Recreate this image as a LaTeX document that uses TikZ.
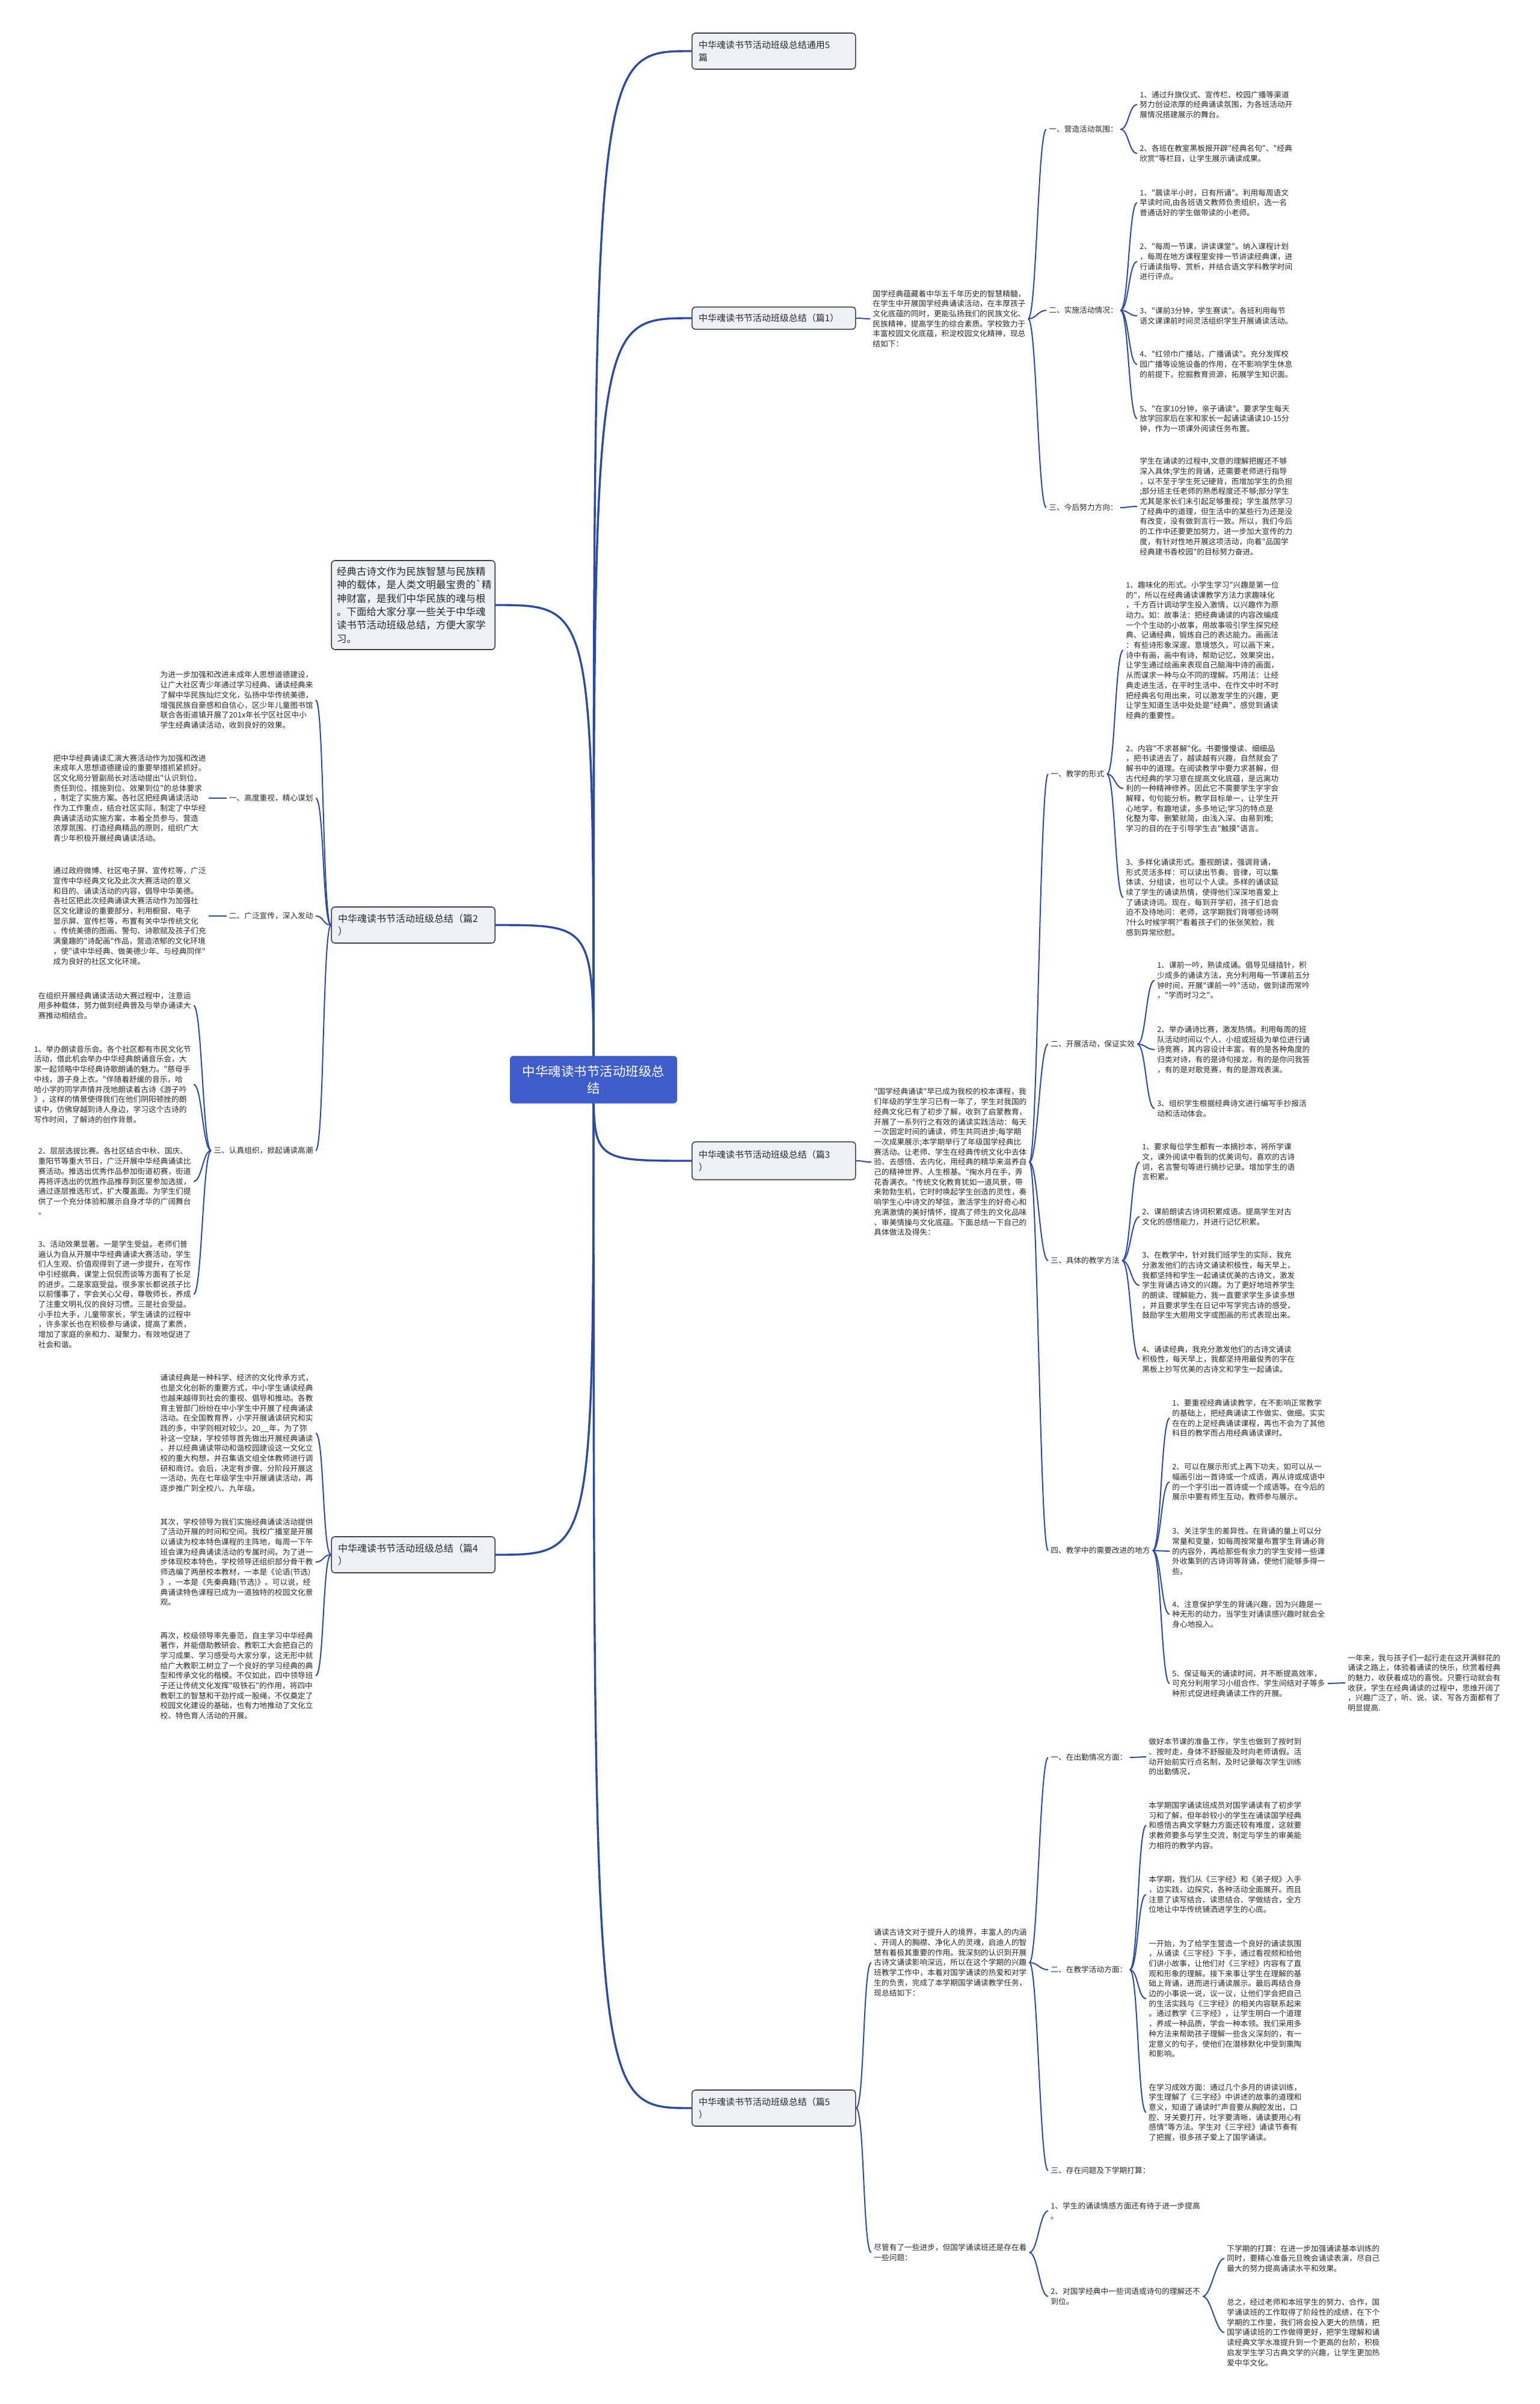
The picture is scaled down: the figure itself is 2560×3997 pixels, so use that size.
\documentclass[tikz,border=0pt]{standalone}
\usepackage{fontspec}
\setmainfont{Noto Sans CJK SC}[Ligatures=TeXOff]
\pgfdeclarelayer{bg}
\pgfsetlayers{bg,main}
\definecolor{lnc}{RGB}{42,74,168}
\definecolor{rootc}{RGB}{62,92,202}
\definecolor{boxc}{RGB}{237,240,245}
\definecolor{txc}{RGB}{40,40,40}
\newcommand\rconn[2]{\draw[subl] (#1.east) .. controls +(14,0) and +(-14,0) .. (#2.west);}
\newcommand\lconn[2]{\draw[subl] (#1.west) .. controls +(-14,0) and +(14,0) .. (#2.east);}
\begin{document}
\begin{tikzpicture}[x=0.5pt,y=-0.5pt,
 txt/.style={font=\fontsize{6.35pt}{8.35pt}\selectfont, align=left, inner xsep=2pt, inner ysep=1pt, text=txc},
 rtxt/.style={txt, anchor=west},
 ltxt/.style={txt, anchor=east},
 ttl/.style={draw=black!75, line width=0.8pt, fill=boxc, rounded corners=3pt, font=\fontsize{7.5pt}{10.5pt}\selectfont, align=left, text width=125pt, inner xsep=5.5pt, inner ysep=2pt, text=txc},
 lttl/.style={ttl, anchor=east, font=\fontsize{8pt}{10.5pt}\selectfont},
 mainl/.style={draw=lnc, line width=1.7pt},
 subl/.style={draw=lnc, line width=1pt}]
\useasboundingbox (0,0) rectangle (2560,3997);

% ---------- root and titles ----------
\node[fill=rootc, text=white, rounded corners=3pt, font=\fontsize{10.75pt}{14pt}\selectfont, align=center, text width=129pt, inner xsep=5pt, minimum height=39.5pt] (root) at (987,1795) {中华魂读书节活动班级总\\结};

\node[ttl, anchor=west, minimum height=30pt] (t0) at (1150,85) {中华魂读书节活动班级总结通用5\\篇};
\node[ttl, anchor=west, minimum height=18.5pt] (t1) at (1150,529) {中华魂读书节活动班级总结（篇1）};
\node[ttl, anchor=west, minimum height=31.5pt] (t3) at (1150,1930) {中华魂读书节活动班级总结（篇3\\）};
\node[ttl, anchor=west, minimum height=30pt] (t5) at (1150,3505) {中华魂读书节活动班级总结（篇5\\）};

\node[ttl, anchor=east, minimum height=74pt, font=\fontsize{8.25pt}{11.15pt}\selectfont, text width=127pt, inner xsep=4.5pt] (intro) at (824,1006) {经典古诗文作为民族智慧与民族精\\神的载体，是人类文明最宝贵的`精\\神财富，是我们中华民族的魂与根\\。下面给大家分享一些关于中华魂\\读书节活动班级总结，方便大家学\\习。};
\node[lttl, minimum height=30pt] (t2) at (824,1538) {中华魂读书节活动班级总结（篇2\\）};
\node[lttl, minimum height=30pt] (t4) at (824,2585) {中华魂读书节活动班级总结（篇4\\）};

\begin{pgfonlayer}{bg}
\fill[white] (0,0) rectangle (2560,3997);
\foreach \t in {t0,t1,t3,t5} \draw[mainl] (root.center) .. controls (root.center |- \t.west) .. (\t.west);
\foreach \t in {intro,t2,t4} \draw[mainl] (root.center) .. controls (root.center |- \t.east) .. (\t.east);
\end{pgfonlayer}

% ---------- 篇1 ----------
\node[rtxt] (p1i) at (1447,530) {国学经典蕴藏着中华五千年历史的智慧精髓，\\在学生中开展国学经典诵读活动，在丰厚孩子\\文化底蕴的同时，更能弘扬我们的民族文化、\\民族精神，提高学生的综合素质。学校致力于\\丰富校园文化底蕴，积淀校园文化精神，现总\\结如下：};
\node[rtxt] (p1a) at (1740,215) {一、营造活动氛围：};
\node[rtxt] (p1b) at (1740,516) {二、实施活动情况：};
\node[rtxt] (p1c) at (1740,844) {三、今后努力方向：};
\node[rtxt] (p1a1) at (1891,174) {1、通过升旗仪式、宣传栏、校园广播等渠道\\努力创设浓厚的经典诵读氛围，为各班活动开\\展情况搭建展示的舞台。};
\node[rtxt] (p1a2) at (1891,255) {2、各班在教室黑板报开辟"经典名句"、"经典\\欣赏"等栏目，让学生展示诵读成果。};
\node[rtxt] (p1b1) at (1891,337) {1、"晨读半小时，日有所诵"。利用每周语文\\早读时间,由各班语文教师负责组织，选一名\\普通话好的学生做带读的小老师。};
\node[rtxt] (p1b2) at (1891,435) {2、"每周一节课，讲读课堂"。纳入课程计划\\，每周在地方课程里安排一节讲读经典课，进\\行诵读指导、赏析，并结合语文学科教学时间\\进行评点。};
\node[rtxt] (p1b3) at (1891,525) {3、"课前3分钟，学生赛读"。各班利用每节\\语文课课前时间灵活组织学生开展诵读活动。};
\node[rtxt] (p1b4) at (1891,606) {4、"红领巾广播站，广播诵读"。充分发挥校\\园广播等设施设备的作用，在不影响学生休息\\的前提下，挖掘教育资源，拓展学生知识面。};
\node[rtxt] (p1b5) at (1891,696) {5、"在家10分钟，亲子诵读"。要求学生每天\\放学回家后在家和家长一起诵读诵读10-15分\\钟，作为一项课外阅读任务布置。};
\node[rtxt] (p1c1) at (1891,842) {学生在诵读的过程中,文意的理解把握还不够\\深入具体;学生的背诵，还需要老师进行指导\\，以不至于学生死记硬背，而增加学生的负担\\;部分班主任老师的熟悉程度还不够;部分学生\\尤其是家长们未引起足够重视；学生虽然学习\\了经典中的道理，但生活中的某些行为还是没\\有改变，没有做到言行一致。所以，我们今后\\的工作中还要更加努力，进一步加大宣传的力\\度，有针对性地开展这项活动，向着"品国学\\经典建书香校园"的目标努力奋进。};
\rconn{t1}{p1i}
\foreach \n in {p1a,p1b,p1c} {\rconn{p1i}{\n}}
\foreach \n in {p1a1,p1a2} {\rconn{p1a}{\n}}
\foreach \n in {p1b1,p1b2,p1b3,p1b4,p1b5} {\rconn{p1b}{\n}}
\rconn{p1c}{p1c1}

% ---------- 篇3 ----------
\node[rtxt] (p3i) at (1449,1932) {"国学经典诵读"早已成为我校的校本课程，我\\们年级的学生学习已有一年了，学生对我国的\\经典文化已有了初步了解，收到了启蒙教育，\\开展了一系列行之有效的诵读实践活动：每天\\一次固定时间的诵读，师生共同进步;每学期\\一次成果展示;本学期举行了年级国学经典比\\赛活动。让老师、学生在经典传统文化中去体\\验、去感悟、去内化，用经典的精华来滋养自\\己的精神世界、人生根基。"掬水月在手，弄\\花香满衣。"传统文化教育犹如一道风景，带\\来勃勃生机，它时时唤起学生创造的灵性，奏\\响学生心中诗文的琴弦，激活学生的好奇心和\\充满激情的美好情怀，提高了师生的文化品味\\、审美情操与文化底蕴。下面总结一下自己的\\具体做法及得失：};
\node[rtxt] (p3a) at (1743,1287) {一、教学的形式};
\node[rtxt] (p3b) at (1743,1736) {二、开展活动，保证实效};
\node[rtxt] (p3c) at (1743,2096) {三、具体的教学方法};
\node[rtxt] (p3d) at (1743,2578) {四、教学中的需要改进的地方};
\node[rtxt] (p3a1) at (1868,1081) {1、趣味化的形式。小学生学习"兴趣是第一位\\的"，所以在经典诵读课教学方法力求趣味化\\，千方百计调动学生投入激情，以兴趣作为原\\动力。如：故事法：把经典诵读的内容改编成\\一个个生动的小故事，用故事吸引学生探究经\\典、记诵经典，锻炼自己的表达能力。画画法\\：有些诗形象深邃、意境悠久，可以画下来，\\诗中有画，画中有诗，帮助记忆，效果突出，\\让学生通过绘画来表现自己脑海中诗的画面，\\从而谋求一种与众不同的理解。巧用法：让经\\典走进生活，在平时生活中、在作文中时不时\\把经典名句用出来，可以激发学生的兴趣，更\\让学生知道生活中处处是"经典"，感觉到诵读\\经典的重要性。};
\node[rtxt] (p3a2) at (1868,1311) {2、内容"不求甚解"化。书要慢慢读、细细品\\，把书读进去了，越读越有兴趣，自然就会了\\解书中的道理。在阅读教学中要力求甚解，但\\古代经典的学习意在提高文化底蕴，是远离功\\利的一种精神修养。因此它不需要学生字字会\\解释，句句能分析。教学目标单一，让学生开\\心地学，有趣地读，多多地记;学习的特点是\\化整为零、删繁就简，由浅入深、由易到难;\\学习的目的在于引导学生去"触摸"语言。};
\node[rtxt] (p3a3) at (1868,1492) {3、多样化诵读形式。重视朗读，强调背诵，\\形式灵活多样：可以读出节奏、音律，可以集\\体读、分组读，也可以个人读。多样的诵读延\\续了学生的诵读热情，使得他们深深地喜爱上\\了诵读诗词。现在，每到开学初，孩子们总会\\迫不及待地问：老师，这学期我们背哪些诗啊\\?什么时候学啊?"看着孩子们的张张笑脸，我\\感到异常欣慰。};
\node[rtxt] (p3b1) at (1920,1630) {1、课前一吟，熟读成诵。倡导见缝插针，积\\少成多的诵读方法，充分利用每一节课前五分\\钟时间，开展"课前一吟"活动，做到读而常吟\\，"学而时习之"。};
\node[rtxt] (p3b2) at (1920,1745) {2、举办诵诗比赛，激发热情。利用每周的班\\队活动时间以个人、小组或班级为单位进行诵\\诗竞赛，其内容设计丰富，有的是各种角度的\\归类对诗，有的是诗句接龙，有的是你问我答\\，有的是对歌竞赛，有的是游戏表演。};
\node[rtxt] (p3b3) at (1920,1843) {3、组织学生根据经典诗文进行编写手抄报活\\动和活动体会。};
\node[rtxt] (p3c1) at (1895,1932) {1、要求每位学生都有一本摘抄本，将所学课\\文，课外阅读中看到的优美词句，喜欢的古诗\\词，名言警句等进行摘抄记录。增加学生的语\\言积累。};
\node[rtxt] (p3c2) at (1895,2023) {2、课前朗读古诗词积累成语。提高学生对古\\文化的感悟能力，并进行记忆积累。};
\node[rtxt] (p3c3) at (1895,2137) {3、在教学中，针对我们班学生的实际，我充\\分激发他们的古诗文诵读积极性，每天早上，\\我都坚持和学生一起诵读优美的古诗文，激发\\学生背诵古诗文的兴趣。为了更好地培养学生\\的朗读、理解能力，我一直要求学生多读多想\\，并且要求学生在日记中写学完古诗的感受，\\鼓励学生大胆用文字或图画的形式表现出来。};
\node[rtxt] (p3c4) at (1895,2260) {4、诵读经典，我充分激发他们的古诗文诵读\\积极性，每天早上，我都坚持用最俊秀的字在\\黑板上抄写优美的古诗文和学生一起诵读。};
\node[rtxt] (p3d1) at (1945,2358) {1、要重视经典诵读教学，在不影响正常教学\\的基础上，把经典诵读工作做实、做细。实实\\在在的上足经典诵读课程，再也不会为了其他\\科目的教学而占用经典诵读课时。};
\node[rtxt] (p3d2) at (1945,2464) {2、可以在展示形式上再下功夫，如可以从一\\幅画引出一首诗或一个成语，再从诗或成语中\\的一个字引出一首诗或一个成语等。在今后的\\展示中要有师生互动，教师参与展示。};
\node[rtxt] (p3d3) at (1945,2579) {3、关注学生的差异性。在背诵的量上可以分\\常量和变量，如每周按常量布置学生背诵必背\\的内容外，再给那些有余力的学生安排一些课\\外收集到的古诗词等背诵，使他们能够多得一\\些。};
\node[rtxt] (p3d4) at (1945,2684) {4、注意保护学生的背诵兴趣，因为兴趣是一\\种无形的动力，当学生对诵读感兴趣时就会全\\身心地投入。};
\node[rtxt] (p3d5) at (1945,2799) {5、保证每天的诵读时间，并不断提高效率，\\可充分利用学习小组合作、学生间结对子等多\\种形式促进经典诵读工作的开展。};
\node[rtxt] (p3d5x) at (2237,2798) {一年来，我与孩子们一起行走在这开满鲜花的\\诵读之路上，体验着诵读的快乐，欣赏着经典\\的魅力，收获着成功的喜悦。只要行动就会有\\收获，学生在经典诵读的过程中，思维开阔了\\，兴趣广泛了，听、说、读、写各方面都有了\\明显提高.};
\rconn{t3}{p3i}
\foreach \n in {p3a,p3b,p3c,p3d} {\rconn{p3i}{\n}}
\foreach \n in {p3a1,p3a2,p3a3} {\rconn{p3a}{\n}}
\foreach \n in {p3b1,p3b2,p3b3} {\rconn{p3b}{\n}}
\foreach \n in {p3c1,p3c2,p3c3,p3c4} {\rconn{p3c}{\n}}
\foreach \n in {p3d1,p3d2,p3d3,p3d4,p3d5} {\rconn{p3d}{\n}}
\rconn{p3d5}{p3d5x}

% ---------- 篇5 ----------
\node[rtxt] (p5A) at (1449,3263) {诵读古诗文对于提升人的境界，丰富人的内涵\\、开阔人的胸襟、净化人的灵魂，启迪人的智\\慧有着极其重要的作用。我深刻的认识到开展\\古诗文诵读影响深远，所以在这个学期的兴趣\\班教学工作中，本着对国学诵读的热爱和对学\\生的负责，完成了本学期国学诵读教学任务，\\现总结如下：};
\node[rtxt] (p5B) at (1449,3745) {尽管有了一些进步，但国学诵读班还是存在着\\一些问题：};
\node[rtxt] (p5a) at (1743,2922) {一、在出勤情况方面：};
\node[rtxt] (p5b) at (1743,3275) {二、在教学活动方面：};
\node[rtxt] (p5c) at (1743,3609) {三、存在问题及下学期打算：};
\node[rtxt] (p5a1) at (1906,2921) {做好本节课的准备工作，学生也做到了按时到\\、按时走，身体不舒服能及时向老师请假。活\\动开始前实行点名制，及时记录每次学生训练\\的出勤情况，};
\node[rtxt] (p5b1) at (1906,3035) {本学期国学诵读班成员对国学诵读有了初步学\\习和了解，但年龄较小的学生在诵读国学经典\\和感悟古典文学魅力方面还较有难度，这就要\\求教师要多与学生交流，制定与学生的审美能\\力相符的教学内容。};
\node[rtxt] (p5b2) at (1906,3150) {本学期，我们从《三字经》和《弟子规》入手\\，边实践，边探究，各种活动全面展开。而且\\注意了读写结合、读思结合、学做结合，全方\\位地让中华传统铺洒进学生的心底。};
\node[rtxt] (p5b3) at (1906,3323) {一开始，为了给学生营造一个良好的诵读氛围\\，从诵读《三字经》下手，通过看视频和给他\\们讲小故事，让他们对《三字经》内容有了直\\观和形象的理解。接下来事让学生在理解的基\\础上背诵，进而进行诵读展示。最后再结合身\\边的小事说一说，议一议，让他们学会把自己\\的生活实践与《三字经》的相关内容联系起来\\。通过教学《三字经》，让学生明白一个道理\\，养成一种品质，学会一种本领。我们采用多\\种方法来帮助孩子理解一些含义深刻的，有一\\定意义的句子，使他们在潜移默化中受到熏陶\\和影响。};
\node[rtxt] (p5b4) at (1906,3512) {在学习成效方面：通过几个多月的讲读训练，\\学生理解了《三字经》中讲述的故事的道理和\\意义，知道了诵读时"声音要从胸腔发出，口\\腔、牙关要打开，吐字要清晰，诵读要用心有\\感情"等方法。学生对《三字经》诵读节奏有\\了把握，很多孩子爱上了国学诵读。};
\node[rtxt] (p5B1) at (1743,3676) {1、学生的诵读情感方面还有待于进一步提高\\。};
\node[rtxt] (p5B2) at (1743,3818) {2、对国学经典中一些词语或诗句的理解还不\\到位。};
\node[rtxt] (p5B2a) at (2036,3755) {下学期的打算：在进一步加强诵读基本训练的\\同时，要精心准备元旦晚会诵读表演，尽自己\\最大的努力提高诵读水平和效果。};
\node[rtxt] (p5B2b) at (2036,3878) {总之，经过老师和本班学生的努力、合作，国\\学诵读班的工作取得了阶段性的成绩，在下个\\学期的工作里，我们将会投入更大的热情，把\\国学诵读班的工作做得更好，把学生理解和诵\\读经典文学水准提升到一个更高的台阶，积极\\启发学生学习古典文学的兴趣，让学生更加热\\爱中华文化。};
\rconn{t5}{p5A}
\rconn{t5}{p5B}
\foreach \n in {p5a,p5b,p5c} {\rconn{p5A}{\n}}
\rconn{p5a}{p5a1}
\foreach \n in {p5b1,p5b2,p5b3,p5b4} {\rconn{p5b}{\n}}
\foreach \n in {p5B1,p5B2} {\rconn{p5B}{\n}}
\foreach \n in {p5B2a,p5B2b} {\rconn{p5B2}{\n}}

% ---------- 篇2 (left) ----------
\node[ltxt] (p2i) at (525,1164) {为进一步加强和改进未成年人思想道德建设，\\让广大社区青少年通过学习经典、诵读经典来\\了解中华民族灿烂文化，弘扬中华传统美德，\\增强民族自豪感和自信心，区少年儿童图书馆\\联合各街道镇开展了201x年长宁区社区中小\\学生经典诵读活动，收到良好的效果。};
\node[ltxt] (p2a) at (525,1327) {一、高度重视，精心谋划};
\node[ltxt] (p2b) at (525,1523) {二、广泛宣传，深入发动};
\node[ltxt] (p2c) at (525,1913) {三、认真组织，掀起诵读高潮};
\node[ltxt] (p2a1) at (347,1327) {把中华经典诵读汇演大赛活动作为加强和改进\\未成年人思想道德建设的重要举措抓紧抓好。\\区文化局分管副局长对活动提出"认识到位、\\责任到位、措施到位、效果到位"的总体要求\\，制定了实施方案。各社区把经典诵读活动\\作为工作重点，结合社区实际，制定了中华经\\典诵读活动实施方案，本着全员参与、营造\\浓厚氛围、打造经典精品的原则，组织广大\\青少年积极开展经典诵读活动。};
\node[ltxt] (p2b1) at (347,1523) {通过政府微博、社区电子屏、宣传栏等，广泛\\宣传中华经典文化及此次大赛活动的意义\\和目的、诵读活动的内容，倡导中华美德。\\各社区把此次经典诵读大赛活动作为加强社\\区文化建设的重要部分，利用橱窗、电子\\显示屏、宣传栏等，布置有关中华传统文化\\、传统美德的图画、警句、诗歌赋及孩子们充\\满童趣的"诗配画"作品，营造浓郁的文化环境\\，使"读中华经典、做美德少年、与经典同伴"\\成为良好的社区文化环境。};
\node[ltxt] (p2c1) at (322,1672) {在组织开展经典诵读活动大赛过程中，注意运\\用多种载体，努力做到经典普及与举办诵读大\\赛推动相结合。};
\node[ltxt] (p2c2) at (322,1803) {1、举办朗读音乐会。各个社区都有市民文化节\\活动，借此机会举办中华经典朗诵音乐会，大\\家一起领略中华经典诗歌朗诵的魅力。"慈母手\\中线，游子身上衣。"伴随着舒缓的音乐，哈\\哈小学的同学声情并茂地朗读着古诗《游子吟\\》，这样的情景使得我们在他们阴阳顿挫的朗\\读中，仿佛穿越到诗人身边，学习这个古诗的\\写作时间，了解诗的创作背景。};
\node[ltxt] (p2c3) at (322,1964) {2、层层选拔比赛。各社区结合中秋、国庆、\\重阳节等重大节日，广泛开展中华经典诵读比\\赛活动。推选出优秀作品参加街道初赛，街道\\再将评选出的优胜作品推荐到区里参加选拔，\\通过逐层推选形式，扩大覆盖面。为学生们提\\供了一个充分体验和展示自身才华的广阔舞台\\。};
\node[ltxt] (p2c4) at (322,2152) {3、活动效果显著。一是学生受益。老师们普\\遍认为自从开展中华经典诵读大赛活动，学生\\们人生观、价值观得到了进一步提升，在写作\\中引经据典，课堂上侃侃而谈等方面有了长足\\的进步。二是家庭受益。很多家长都说孩子比\\以前懂事了，学会关心父母，尊敬师长，养成\\了注重文明礼仪的良好习惯。三是社会受益。\\小手拉大手，儿童带家长，学生诵读的过程中\\，许多家长也在积极参与诵读，提高了素质，\\增加了家庭的亲和力、凝聚力，有效地促进了\\社会和谐。};
\foreach \n in {p2i,p2a,p2b,p2c} {\lconn{t2}{\n}}
\lconn{p2a}{p2a1}
\lconn{p2b}{p2b1}
\foreach \n in {p2c1,p2c2,p2c3,p2c4} {\lconn{p2c}{\n}}

% ---------- 篇4 (left) ----------
\node[ltxt] (p4a) at (525,2383) {诵读经典是一种科学、经济的文化传承方式，\\也是文化创新的重要方式，中小学生诵读经典\\也越来越得到社会的重视、倡导和推动。各教\\育主管部门纷纷在中小学生中开展了经典诵读\\活动。在全国教育界，小学开展诵读研究和实\\践的多，中学则相对较少。20\_\_年，为了弥\\补这一空缺，学校领导首先做出开展经典诵读\\、并以经典诵读带动和谐校园建设这一文化立\\校的重大构想，并召集语文组全体教师进行调\\研和商讨。会后，决定有步骤、分阶段开展这\\一活动，先在七年级学生中开展诵读活动，再\\逐步推广到全校八、九年级。};
\node[ltxt] (p4b) at (525,2597) {其次，学校领导为我们实施经典诵读活动提供\\了活动开展的时间和空间。我校广播室是开展\\以诵读为校本特色课程的主阵地，每周一下午\\班会课为经典诵读活动的专属时间。为了进一\\步体现校本特色，学校领导还组织部分骨干教\\师选编了两册校本教材，一本是《论语(节选)\\》，一本是《先秦典籍(节选)》。可以说，经\\典诵读特色课程已成为一道独特的校园文化景\\观。};
\node[ltxt] (p4c) at (525,2786) {再次，校级领导率先垂范，自主学习中华经典\\著作，并能借助教研会、教职工大会把自己的\\学习成果、学习感受与大家分享，这无形中就\\给广大教职工树立了一个良好的学习经典的典\\型和传承文化的楷模。不仅如此，四中领导班\\子还让传统文化发挥"吸铁石"的作用，将四中\\教职工的智慧和干劲拧成一股绳，不仅奠定了\\校园文化建设的基础，也有力地推动了文化立\\校、特色育人活动的开展。};
\foreach \n in {p4a,p4b,p4c} {\lconn{t4}{\n}}
\end{tikzpicture}
\end{document}
